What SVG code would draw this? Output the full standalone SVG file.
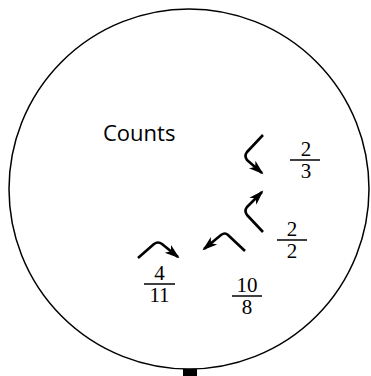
<svg xmlns="http://www.w3.org/2000/svg" width="371" height="376" viewBox="0 0 371 376">
<style>
.frac{font-family:"Liberation Serif",serif;font-size:21px;fill:#000;text-anchor:middle}
.bar{stroke:#000;stroke-width:1.5}
.arr{fill:none;stroke:#000;stroke-width:2.6;stroke-linejoin:round;marker-end:url(#ah)}
</style>
<defs>
<marker id="ah" markerUnits="userSpaceOnUse" markerWidth="16" markerHeight="12" refX="13" refY="6" orient="auto">
<path d="M0,1 L15,6 L0,11 L4,6 Z" fill="#000"/>
</marker>
</defs>
<g id="boundary">
<circle cx="189" cy="189" r="180" fill="none" stroke="#000" stroke-width="1.5"/>
<rect x="183" y="369" width="14" height="7" fill="#000"/>
</g>
<g id="label">
<text x="103" y="141" font-family="Open Sans, sans-serif" font-size="22">Counts</text>
</g>
<g id="frac-2-3">
<text class="frac" x="306" y="156">2</text>
<line class="bar" x1="290" y1="160" x2="320" y2="160"/>
<text class="frac" x="306" y="178">3</text>
</g>
<g id="frac-2-2">
<text class="frac" x="292" y="236">2</text>
<line class="bar" x1="277" y1="240" x2="307" y2="240"/>
<text class="frac" x="292" y="258">2</text>
</g>
<g id="frac-4-11">
<text class="frac" x="159.5" y="280">4</text>
<line class="bar" x1="144" y1="284" x2="175" y2="284"/>
<text class="frac" x="159.5" y="302">11</text>
</g>
<g id="frac-10-8">
<text class="frac" x="247" y="292">10</text>
<line class="bar" x1="232" y1="296" x2="262" y2="296"/>
<text class="frac" x="247" y="314">8</text>
</g>
<g id="connectors">
<path class="arr" d="M263,135 L247,152 Q244,156 247,160 L262,173"/>
<path class="arr" d="M263,232 L247,215 Q244,211 247,207 L262,192"/>
<path class="arr" d="M245,251 L228,235 Q225,232 221,235 L204,249"/>
<path class="arr" d="M138,258 L154,244 Q158,241 162,244 L178,257"/>
</g>
</svg>
